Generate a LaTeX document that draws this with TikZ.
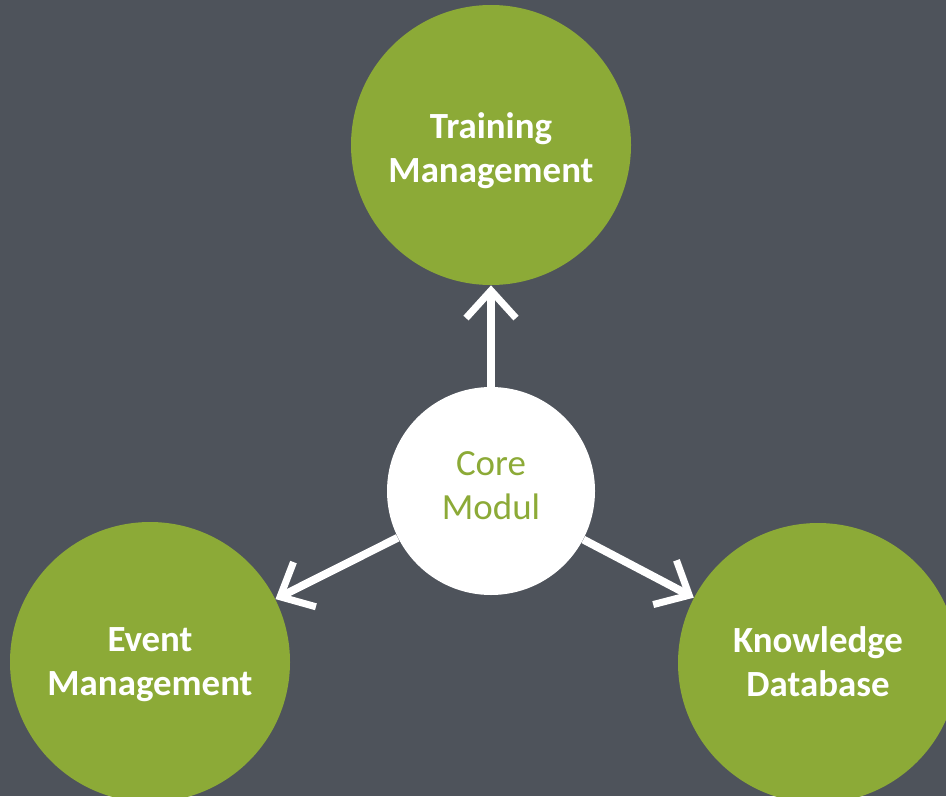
\documentclass[tikz,border=0pt]{standalone}
\usepackage{fontspec}
\setmainfont{Carlito}
\usetikzlibrary{arrows.meta}

\definecolor{slate}{HTML}{4E535B}
\definecolor{leaf}{HTML}{8CAA37}

\tikzset{
    module/.style={circle, fill=leaf, minimum size=5.6cm, inner sep=0pt},
    core/.style={circle, fill=white, minimum size=4.16cm, inner sep=0pt},
    moduletext/.style={text=white, align=center, font=\fontsize{21}{25}\selectfont\bfseries},
    coretext/.style={text=leaf, align=center, font=\fontsize{21}{25}\selectfont},
    chalk/.style={draw=white, line width=4.5pt,
        -{Straight Barb[length=0.55cm, width=1.0cm, line width=4pt]}}
}

\begin{document}
\begin{tikzpicture}

    \useasboundingbox (0,0) rectangle (18.92,15.92);
    \clip (0,0) rectangle (18.92,15.92);
    \fill[slate] (0,0) rectangle (18.92,15.92); % board

    \node[core, label={[coretext, yshift=2.8pt]center:Core\\Modul}] (core) at (9.82,6.10) {};
    \node[module, label={[moduletext, yshift=-3.4pt]center:Training\\Management}] (train) at (9.82,13.02) {};
    \node[module, label={[moduletext, yshift=-1.7pt]center:Event\\Management}] (event) at (3.00,2.68) {};
    \node[module, label={[moduletext, yshift=1pt]center:Knowledge\\Database}] (know) at (16.36,2.66) {};

    \draw[chalk] (core) -- (train);
    \draw[chalk] (core) -- (event);
    \draw[chalk] (core) -- (know);

\end{tikzpicture}
\end{document}
